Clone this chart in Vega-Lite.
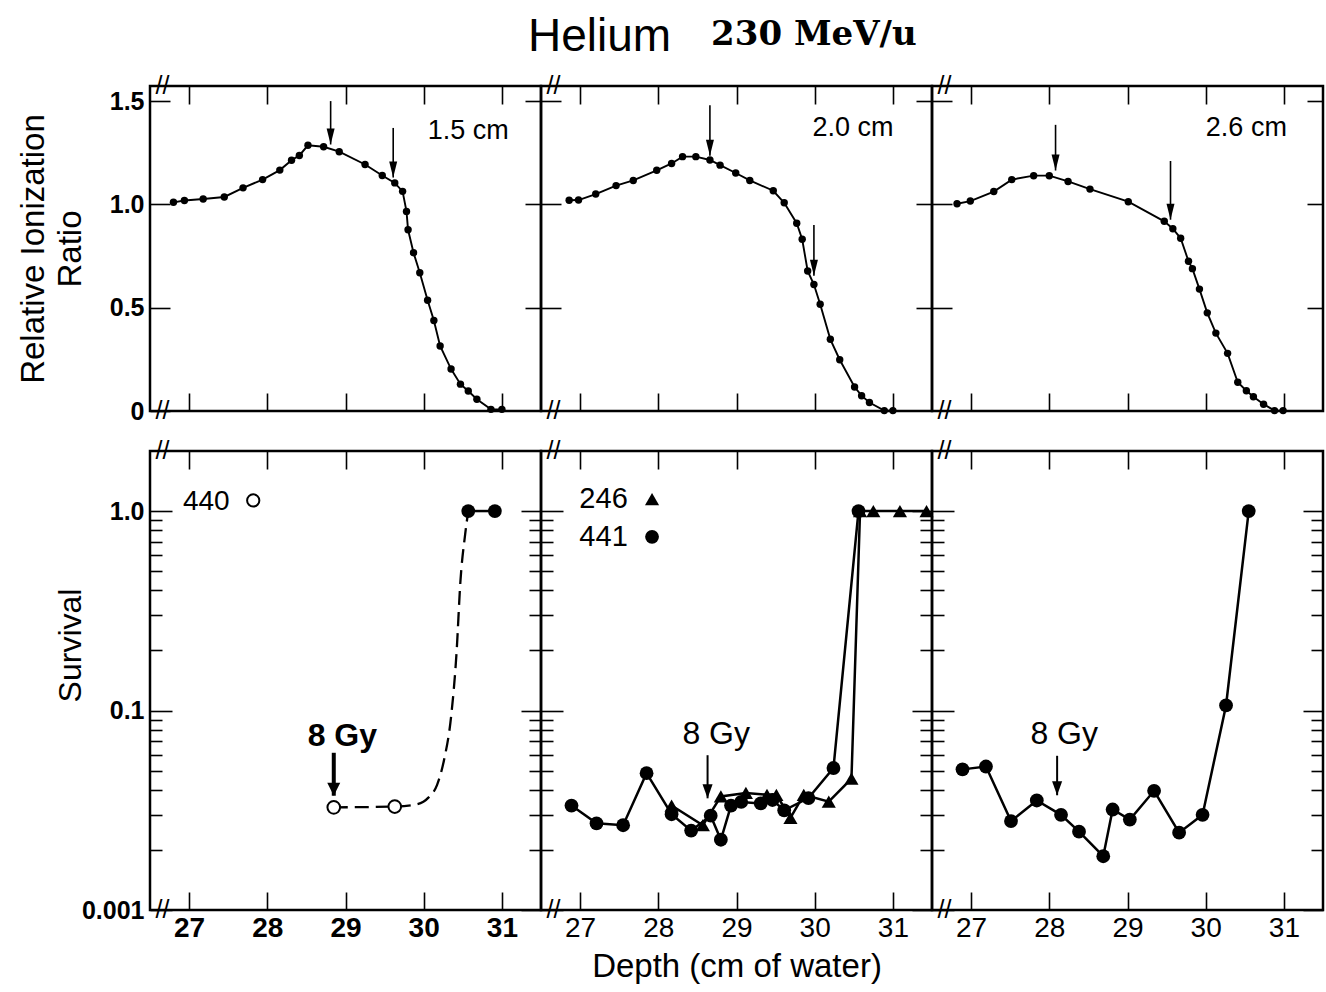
{
  "$schema": "https://vega.github.io/schema/vega-lite/v6.json",
  "background": "white",
  "padding": {"left": 15, "top": 13, "right": 0, "bottom": 0},
  "title": {"text": "Helium", "font": "Liberation Sans", "fontSize": 46, "fontWeight": "normal", "color": "black", "anchor": "start", "frame": "group", "dx": 378, "offset": -44},
  "config": {
    "view": {"stroke": "black", "strokeWidth": 2.5},
    "axis": {"domain": false, "grid": false, "ticks": true, "tickColor": "black", "tickWidth": 1.6, "labelColor": "black", "titleColor": "black", "labelFont": "Liberation Sans", "titleFont": "Liberation Sans", "labelFlush": false, "titleFontWeight": "normal"},
    "text": {"font": "Liberation Sans", "color": "black"}
  },
  "datasets": {
    "ion": [
      {"panel": "1.5", "depth": 26.80, "ratio": 1.010}, {"panel": "1.5", "depth": 26.94, "ratio": 1.019}, {"panel": "1.5", "depth": 27.18, "ratio": 1.026}, {"panel": "1.5", "depth": 27.45, "ratio": 1.036},
      {"panel": "1.5", "depth": 27.69, "ratio": 1.080}, {"panel": "1.5", "depth": 27.94, "ratio": 1.120}, {"panel": "1.5", "depth": 28.16, "ratio": 1.166}, {"panel": "1.5", "depth": 28.31, "ratio": 1.214},
      {"panel": "1.5", "depth": 28.41, "ratio": 1.237}, {"panel": "1.5", "depth": 28.52, "ratio": 1.286}, {"panel": "1.5", "depth": 28.72, "ratio": 1.279}, {"panel": "1.5", "depth": 28.92, "ratio": 1.255},
      {"panel": "1.5", "depth": 29.25, "ratio": 1.193}, {"panel": "1.5", "depth": 29.47, "ratio": 1.140}, {"panel": "1.5", "depth": 29.63, "ratio": 1.104}, {"panel": "1.5", "depth": 29.73, "ratio": 1.063},
      {"panel": "1.5", "depth": 29.78, "ratio": 0.966}, {"panel": "1.5", "depth": 29.80, "ratio": 0.877}, {"panel": "1.5", "depth": 29.87, "ratio": 0.766}, {"panel": "1.5", "depth": 29.95, "ratio": 0.669},
      {"panel": "1.5", "depth": 30.05, "ratio": 0.536}, {"panel": "1.5", "depth": 30.13, "ratio": 0.438}, {"panel": "1.5", "depth": 30.21, "ratio": 0.315}, {"panel": "1.5", "depth": 30.35, "ratio": 0.203},
      {"panel": "1.5", "depth": 30.47, "ratio": 0.130}, {"panel": "1.5", "depth": 30.57, "ratio": 0.097}, {"panel": "1.5", "depth": 30.68, "ratio": 0.057}, {"panel": "1.5", "depth": 30.86, "ratio": 0.008},
      {"panel": "1.5", "depth": 31.00, "ratio": 0.008},
      {"panel": "2.0", "depth": 26.86, "ratio": 1.020}, {"panel": "2.0", "depth": 26.98, "ratio": 1.021}, {"panel": "2.0", "depth": 27.20, "ratio": 1.050}, {"panel": "2.0", "depth": 27.46, "ratio": 1.091},
      {"panel": "2.0", "depth": 27.68, "ratio": 1.116}, {"panel": "2.0", "depth": 27.98, "ratio": 1.165}, {"panel": "2.0", "depth": 28.17, "ratio": 1.198}, {"panel": "2.0", "depth": 28.31, "ratio": 1.231},
      {"panel": "2.0", "depth": 28.48, "ratio": 1.231}, {"panel": "2.0", "depth": 28.66, "ratio": 1.215}, {"panel": "2.0", "depth": 28.79, "ratio": 1.190}, {"panel": "2.0", "depth": 28.99, "ratio": 1.152},
      {"panel": "2.0", "depth": 29.17, "ratio": 1.116}, {"panel": "2.0", "depth": 29.47, "ratio": 1.066}, {"panel": "2.0", "depth": 29.61, "ratio": 1.008}, {"panel": "2.0", "depth": 29.77, "ratio": 0.909},
      {"panel": "2.0", "depth": 29.84, "ratio": 0.831}, {"panel": "2.0", "depth": 29.91, "ratio": 0.678}, {"panel": "2.0", "depth": 29.99, "ratio": 0.612}, {"panel": "2.0", "depth": 30.07, "ratio": 0.517},
      {"panel": "2.0", "depth": 30.20, "ratio": 0.347}, {"panel": "2.0", "depth": 30.32, "ratio": 0.248}, {"panel": "2.0", "depth": 30.51, "ratio": 0.116}, {"panel": "2.0", "depth": 30.60, "ratio": 0.074},
      {"panel": "2.0", "depth": 30.70, "ratio": 0.041}, {"panel": "2.0", "depth": 30.89, "ratio": 0.002}, {"panel": "2.0", "depth": 31.00, "ratio": 0.002},
      {"panel": "2.6", "depth": 26.82, "ratio": 1.003}, {"panel": "2.6", "depth": 26.99, "ratio": 1.016}, {"panel": "2.6", "depth": 27.29, "ratio": 1.062}, {"panel": "2.6", "depth": 27.52, "ratio": 1.120},
      {"panel": "2.6", "depth": 27.80, "ratio": 1.139}, {"panel": "2.6", "depth": 28.00, "ratio": 1.139}, {"panel": "2.6", "depth": 28.24, "ratio": 1.111}, {"panel": "2.6", "depth": 28.52, "ratio": 1.074},
      {"panel": "2.6", "depth": 29.01, "ratio": 1.013}, {"panel": "2.6", "depth": 29.47, "ratio": 0.918}, {"panel": "2.6", "depth": 29.58, "ratio": 0.882}, {"panel": "2.6", "depth": 29.68, "ratio": 0.836},
      {"panel": "2.6", "depth": 29.78, "ratio": 0.725}, {"panel": "2.6", "depth": 29.83, "ratio": 0.689}, {"panel": "2.6", "depth": 29.92, "ratio": 0.590}, {"panel": "2.6", "depth": 30.02, "ratio": 0.475},
      {"panel": "2.6", "depth": 30.13, "ratio": 0.377}, {"panel": "2.6", "depth": 30.28, "ratio": 0.279}, {"panel": "2.6", "depth": 30.41, "ratio": 0.139}, {"panel": "2.6", "depth": 30.52, "ratio": 0.098},
      {"panel": "2.6", "depth": 30.61, "ratio": 0.069}, {"panel": "2.6", "depth": 30.74, "ratio": 0.033}, {"panel": "2.6", "depth": 30.88, "ratio": 0.002}, {"panel": "2.6", "depth": 30.99, "ratio": 0.002}
    ],
    "ionArrows": [
      {"panel": "1.5", "depth": 28.81, "top": 1.50, "tip": 1.29}, {"panel": "1.5", "depth": 29.61, "top": 1.37, "tip": 1.13},
      {"panel": "2.0", "depth": 28.66, "top": 1.48, "tip": 1.235}, {"panel": "2.0", "depth": 29.99, "top": 0.90, "tip": 0.655},
      {"panel": "2.6", "depth": 28.08, "top": 1.385, "tip": 1.164}, {"panel": "2.6", "depth": 29.55, "top": 1.21, "tip": 0.926}
    ],
    "ionLabels": [
      {"panel": "1.5", "depth": 30.57, "ratio": 1.355, "text": "1.5 cm"},
      {"panel": "2.0", "depth": 30.49, "ratio": 1.372, "text": "2.0 cm"},
      {"panel": "2.6", "depth": 30.52, "ratio": 1.369, "text": "2.6 cm"}
    ],
    "header": [{"depth": 29.99, "ratio": 1.771, "text": "230 MeV/u"}],
    "breaksTop": [{"depth": 26.66, "ratio": 0, "text": "//"}, {"depth": 26.66, "ratio": 1.573, "text": "//"}],
    "breaksBottom": [{"depth": 26.66, "survival": 0.01, "text": "//"}, {"depth": 26.66, "survival": 2, "text": "//"}],
    "curveA": [
      {"seg": "dashed", "depth": 28.85, "survival": 0.0327}, {"seg": "dashed", "depth": 29.63, "survival": 0.0330}, {"seg": "dashed", "depth": 29.89, "survival": 0.0337},
      {"seg": "dashed", "depth": 30.06, "survival": 0.0366}, {"seg": "dashed", "depth": 30.17, "survival": 0.0423}, {"seg": "dashed", "depth": 30.26, "survival": 0.0565},
      {"seg": "dashed", "depth": 30.35, "survival": 0.0929}, {"seg": "dashed", "depth": 30.42, "survival": 0.195}, {"seg": "dashed", "depth": 30.47, "survival": 0.447},
      {"seg": "dashed", "depth": 30.53, "survival": 0.764}, {"seg": "dashed", "depth": 30.57, "survival": 1.0},
      {"seg": "solid", "depth": 30.57, "survival": 1.0}, {"seg": "solid", "depth": 30.91, "survival": 1.0}
    ],
    "surv": [
      {"panel": "A", "series": "440", "marker": "open", "depth": 28.85, "survival": 0.0327},
      {"panel": "A", "series": "440", "marker": "open", "depth": 29.63, "survival": 0.0330},
      {"panel": "A", "series": "440", "marker": "filled", "depth": 30.57, "survival": 1.0},
      {"panel": "A", "series": "440", "marker": "filled", "depth": 30.91, "survival": 1.0},
      {"panel": "B", "series": "441", "marker": "filled", "depth": 26.89, "survival": 0.0334},
      {"panel": "B", "series": "441", "marker": "filled", "depth": 27.21, "survival": 0.0272},
      {"panel": "B", "series": "441", "marker": "filled", "depth": 27.55, "survival": 0.0266},
      {"panel": "B", "series": "441", "marker": "filled", "depth": 27.85, "survival": 0.0485},
      {"panel": "B", "series": "441", "marker": "filled", "depth": 28.17, "survival": 0.0302},
      {"panel": "B", "series": "441", "marker": "filled", "depth": 28.42, "survival": 0.0250},
      {"panel": "B", "series": "441", "marker": "filled", "depth": 28.67, "survival": 0.0297},
      {"panel": "B", "series": "441", "marker": "filled", "depth": 28.80, "survival": 0.0225},
      {"panel": "B", "series": "441", "marker": "filled", "depth": 28.93, "survival": 0.0334},
      {"panel": "B", "series": "441", "marker": "filled", "depth": 29.06, "survival": 0.0348},
      {"panel": "B", "series": "441", "marker": "filled", "depth": 29.31, "survival": 0.0342},
      {"panel": "B", "series": "441", "marker": "filled", "depth": 29.46, "survival": 0.0356},
      {"panel": "B", "series": "441", "marker": "filled", "depth": 29.61, "survival": 0.0316},
      {"panel": "B", "series": "441", "marker": "filled", "depth": 29.92, "survival": 0.0364},
      {"panel": "B", "series": "441", "marker": "filled", "depth": 30.24, "survival": 0.0515},
      {"panel": "B", "series": "441", "marker": "filled", "depth": 30.56, "survival": 1.0},
      {"panel": "B", "series": "246", "marker": "triangle", "depth": 28.17, "survival": 0.0334},
      {"panel": "B", "series": "246", "marker": "triangle", "depth": 28.57, "survival": 0.0266},
      {"panel": "B", "series": "246", "marker": "triangle", "depth": 28.80, "survival": 0.0371},
      {"panel": "B", "series": "246", "marker": "triangle", "depth": 29.12, "survival": 0.0386},
      {"panel": "B", "series": "246", "marker": "triangle", "depth": 29.39, "survival": 0.0378},
      {"panel": "B", "series": "246", "marker": "triangle", "depth": 29.51, "survival": 0.0378},
      {"panel": "B", "series": "246", "marker": "triangle", "depth": 29.69, "survival": 0.0290},
      {"panel": "B", "series": "246", "marker": "triangle", "depth": 29.86, "survival": 0.0378},
      {"panel": "B", "series": "246", "marker": "triangle", "depth": 30.18, "survival": 0.0349},
      {"panel": "B", "series": "246", "marker": "triangle", "depth": 30.47, "survival": 0.0455},
      {"panel": "B", "series": "246", "marker": "triangle", "depth": 30.58, "survival": 1.0},
      {"panel": "B", "series": "246", "marker": "triangle", "depth": 30.75, "survival": 1.0},
      {"panel": "B", "series": "246", "marker": "triangle", "depth": 31.09, "survival": 1.0},
      {"panel": "B", "series": "246", "marker": "triangle", "depth": 31.43, "survival": 1.0},
      {"panel": "C", "series": "441", "marker": "filled", "depth": 26.89, "survival": 0.0507},
      {"panel": "C", "series": "441", "marker": "filled", "depth": 27.19, "survival": 0.0524},
      {"panel": "C", "series": "441", "marker": "filled", "depth": 27.51, "survival": 0.0279},
      {"panel": "C", "series": "441", "marker": "filled", "depth": 27.84, "survival": 0.0354},
      {"panel": "C", "series": "441", "marker": "filled", "depth": 28.15, "survival": 0.0300},
      {"panel": "C", "series": "441", "marker": "filled", "depth": 28.38, "survival": 0.0247},
      {"panel": "C", "series": "441", "marker": "filled", "depth": 28.69, "survival": 0.0186},
      {"panel": "C", "series": "441", "marker": "filled", "depth": 28.81, "survival": 0.0319},
      {"panel": "C", "series": "441", "marker": "filled", "depth": 29.03, "survival": 0.0284},
      {"panel": "C", "series": "441", "marker": "filled", "depth": 29.34, "survival": 0.0396},
      {"panel": "C", "series": "441", "marker": "filled", "depth": 29.66, "survival": 0.0244},
      {"panel": "C", "series": "441", "marker": "filled", "depth": 29.96, "survival": 0.0300},
      {"panel": "C", "series": "441", "marker": "filled", "depth": 30.26, "survival": 0.106},
      {"panel": "C", "series": "441", "marker": "filled", "depth": 30.55, "survival": 1.0}
    ],
    "survArrows": [
      {"panel": "A", "depth": 28.85, "top": 0.0614, "tip": 0.0374},
      {"panel": "B", "depth": 28.63, "top": 0.0597, "tip": 0.0363},
      {"panel": "C", "depth": 28.10, "top": 0.0593, "tip": 0.0376}
    ],
    "survText": [
      {"panel": "A", "kind": "dose", "depth": 28.96, "survival": 0.0748, "text": "8 Gy"},
      {"panel": "A", "kind": "legend", "depth": 27.22, "survival": 1.11, "text": "440"},
      {"panel": "B", "kind": "dose", "depth": 28.74, "survival": 0.076, "text": "8 Gy"},
      {"panel": "B", "kind": "legend", "depth": 27.30, "survival": 1.146, "text": "246"},
      {"panel": "B", "kind": "legend", "depth": 27.30, "survival": 0.743, "text": "441"},
      {"panel": "C", "kind": "dose", "depth": 28.19, "survival": 0.076, "text": "8 Gy"}
    ],
    "legendSymbols": [
      {"panel": "A", "marker": "open", "depth": 27.82, "survival": 1.13},
      {"panel": "B", "marker": "triangle", "depth": 27.92, "survival": 1.146},
      {"panel": "B", "marker": "filled", "depth": 27.92, "survival": 0.743}
    ]
  },
  "spacing": 11,
  "vconcat": [
    {
      "spacing": 0,
      "bounds": "flush",
      "hconcat": [
        {
          "width": 391, "height": 325,
          "layer": [
            {"data": {"name": "ion"}, "transform": [{"filter": "datum.panel == '1.5'"}],
             "mark": {"type": "line", "color": "black", "strokeWidth": 1.9},
             "encoding": {
               "x": {"field": "depth", "type": "quantitative", "scale": {"domain": [26.5, 31.5], "nice": false, "zero": false}, "axis": {"orient": "bottom", "values": [27, 28, 29, 30, 31], "labels": false, "tickSize": -18, "title": null}},
               "y": {"field": "ratio", "type": "quantitative", "scale": {"domain": [0, 1.573], "nice": false, "zero": false}, "axis": {"orient": "left", "values": [0, 0.5, 1, 1.5], "tickSize": -20, "labelPadding": 26, "labelExpr": "datum.value == 0 ? '0' : format(datum.value, '.1f')", "labelFontSize": 25, "labelFontWeight": "bold", "title": ["Relative Ionization", "Ratio"], "titleFontSize": 33, "titleLineHeight": 37, "titlePadding": 22}}
             }},
            {"data": {"name": "ion"}, "transform": [{"filter": "datum.panel == '1.5'"}],
             "mark": {"type": "point", "shape": "circle", "filled": true, "color": "black", "opacity": 1, "size": 55},
             "encoding": {
               "x": {"field": "depth", "type": "quantitative", "axis": {"orient": "top", "values": [27, 28, 29, 30, 31], "labels": false, "tickSize": -18, "title": null}},
               "y": {"field": "ratio", "type": "quantitative", "axis": {"orient": "right", "values": [0.5, 1, 1.5], "labels": false, "tickSize": -16, "title": null}}
             }},
            {"data": {"name": "ionArrows"}, "transform": [{"filter": "datum.panel == '1.5'"}],
             "mark": {"type": "rule", "color": "black", "strokeWidth": 1.6},
             "encoding": {"x": {"field": "depth", "type": "quantitative", "axis": null}, "y": {"field": "top", "type": "quantitative", "axis": null}, "y2": {"field": "tip"}}},
            {"data": {"name": "ionArrows"}, "transform": [{"filter": "datum.panel == '1.5'"}],
             "mark": {"type": "point", "shape": "M-0.25,-1L0.25,-1L0,0Z", "filled": true, "color": "black", "opacity": 1, "size": 1024},
             "encoding": {"x": {"field": "depth", "type": "quantitative", "axis": null}, "y": {"field": "tip", "type": "quantitative", "axis": null}}},
            {"data": {"name": "ionLabels"}, "transform": [{"filter": "datum.panel == '1.5'"}],
             "mark": {"type": "text", "fontSize": 27, "align": "center", "baseline": "middle"},
             "encoding": {"x": {"field": "depth", "type": "quantitative", "axis": null}, "y": {"field": "ratio", "type": "quantitative", "axis": null}, "text": {"field": "text"}}},
            {"data": {"name": "breaksTop"},
             "mark": {"type": "text", "fontSize": 25, "align": "center", "baseline": "middle"},
             "encoding": {"x": {"field": "depth", "type": "quantitative", "axis": null}, "y": {"field": "ratio", "type": "quantitative", "axis": null}, "text": {"field": "text"}}}
          ]
        },
        {
          "width": 391, "height": 325,
          "layer": [
            {"data": {"name": "ion"}, "transform": [{"filter": "datum.panel == '2.0'"}],
             "mark": {"type": "line", "color": "black", "strokeWidth": 1.9},
             "encoding": {
               "x": {"field": "depth", "type": "quantitative", "scale": {"domain": [26.5, 31.5], "nice": false, "zero": false}, "axis": {"orient": "bottom", "values": [27, 28, 29, 30, 31], "labels": false, "tickSize": -18, "title": null}},
               "y": {"field": "ratio", "type": "quantitative", "scale": {"domain": [0, 1.573], "nice": false, "zero": false}, "axis": {"orient": "left", "values": [0.5, 1, 1.5], "tickSize": -20, "labels": false, "title": null}}
             }},
            {"data": {"name": "ion"}, "transform": [{"filter": "datum.panel == '2.0'"}],
             "mark": {"type": "point", "shape": "circle", "filled": true, "color": "black", "opacity": 1, "size": 55},
             "encoding": {
               "x": {"field": "depth", "type": "quantitative", "axis": {"orient": "top", "values": [27, 28, 29, 30, 31], "labels": false, "tickSize": -18, "title": null}},
               "y": {"field": "ratio", "type": "quantitative", "axis": {"orient": "right", "values": [0.5, 1, 1.5], "labels": false, "tickSize": -16, "title": null}}
             }},
            {"data": {"name": "ionArrows"}, "transform": [{"filter": "datum.panel == '2.0'"}],
             "mark": {"type": "rule", "color": "black", "strokeWidth": 1.6},
             "encoding": {"x": {"field": "depth", "type": "quantitative", "axis": null}, "y": {"field": "top", "type": "quantitative", "axis": null}, "y2": {"field": "tip"}}},
            {"data": {"name": "ionArrows"}, "transform": [{"filter": "datum.panel == '2.0'"}],
             "mark": {"type": "point", "shape": "M-0.25,-1L0.25,-1L0,0Z", "filled": true, "color": "black", "opacity": 1, "size": 1024},
             "encoding": {"x": {"field": "depth", "type": "quantitative", "axis": null}, "y": {"field": "tip", "type": "quantitative", "axis": null}}},
            {"data": {"name": "ionLabels"}, "transform": [{"filter": "datum.panel == '2.0'"}],
             "mark": {"type": "text", "fontSize": 27, "align": "center", "baseline": "middle"},
             "encoding": {"x": {"field": "depth", "type": "quantitative", "axis": null}, "y": {"field": "ratio", "type": "quantitative", "axis": null}, "text": {"field": "text"}}},
            {"data": {"name": "header"},
             "mark": {"type": "text", "font": "DejaVu Serif", "fontWeight": "bold", "fontSize": 34, "align": "center", "baseline": "alphabetic"},
             "encoding": {"x": {"field": "depth", "type": "quantitative", "axis": null}, "y": {"field": "ratio", "type": "quantitative", "axis": null}, "text": {"field": "text"}}},
            {"data": {"name": "breaksTop"},
             "mark": {"type": "text", "fontSize": 25, "align": "center", "baseline": "middle"},
             "encoding": {"x": {"field": "depth", "type": "quantitative", "axis": null}, "y": {"field": "ratio", "type": "quantitative", "axis": null}, "text": {"field": "text"}}}
          ]
        },
        {
          "width": 391, "height": 325,
          "layer": [
            {"data": {"name": "ion"}, "transform": [{"filter": "datum.panel == '2.6'"}],
             "mark": {"type": "line", "color": "black", "strokeWidth": 1.9},
             "encoding": {
               "x": {"field": "depth", "type": "quantitative", "scale": {"domain": [26.5, 31.5], "nice": false, "zero": false}, "axis": {"orient": "bottom", "values": [27, 28, 29, 30, 31], "labels": false, "tickSize": -18, "title": null}},
               "y": {"field": "ratio", "type": "quantitative", "scale": {"domain": [0, 1.573], "nice": false, "zero": false}, "axis": {"orient": "left", "values": [0.5, 1, 1.5], "tickSize": -20, "labels": false, "title": null}}
             }},
            {"data": {"name": "ion"}, "transform": [{"filter": "datum.panel == '2.6'"}],
             "mark": {"type": "point", "shape": "circle", "filled": true, "color": "black", "opacity": 1, "size": 55},
             "encoding": {
               "x": {"field": "depth", "type": "quantitative", "axis": {"orient": "top", "values": [27, 28, 29, 30, 31], "labels": false, "tickSize": -18, "title": null}},
               "y": {"field": "ratio", "type": "quantitative", "axis": {"orient": "right", "values": [0.5, 1, 1.5], "labels": false, "tickSize": -16, "title": null}}
             }},
            {"data": {"name": "ionArrows"}, "transform": [{"filter": "datum.panel == '2.6'"}],
             "mark": {"type": "rule", "color": "black", "strokeWidth": 1.6},
             "encoding": {"x": {"field": "depth", "type": "quantitative", "axis": null}, "y": {"field": "top", "type": "quantitative", "axis": null}, "y2": {"field": "tip"}}},
            {"data": {"name": "ionArrows"}, "transform": [{"filter": "datum.panel == '2.6'"}],
             "mark": {"type": "point", "shape": "M-0.25,-1L0.25,-1L0,0Z", "filled": true, "color": "black", "opacity": 1, "size": 1024},
             "encoding": {"x": {"field": "depth", "type": "quantitative", "axis": null}, "y": {"field": "tip", "type": "quantitative", "axis": null}}},
            {"data": {"name": "ionLabels"}, "transform": [{"filter": "datum.panel == '2.6'"}],
             "mark": {"type": "text", "fontSize": 27, "align": "center", "baseline": "middle"},
             "encoding": {"x": {"field": "depth", "type": "quantitative", "axis": null}, "y": {"field": "ratio", "type": "quantitative", "axis": null}, "text": {"field": "text"}}},
            {"data": {"name": "breaksTop"},
             "mark": {"type": "text", "fontSize": 25, "align": "center", "baseline": "middle"},
             "encoding": {"x": {"field": "depth", "type": "quantitative", "axis": null}, "y": {"field": "ratio", "type": "quantitative", "axis": null}, "text": {"field": "text"}}}
          ]
        }
      ]
    },
    {
      "spacing": 0,
      "bounds": "flush",
      "hconcat": [
        {
          "width": 391, "height": 459,
          "layer": [
            {"data": {"name": "curveA"}, "transform": [{"filter": "datum.seg == 'dashed'"}],
             "mark": {"type": "line", "color": "black", "strokeWidth": 2.3, "strokeDash": [14, 7], "interpolate": "monotone"},
             "encoding": {
               "x": {"field": "depth", "type": "quantitative", "scale": {"domain": [26.5, 31.5], "nice": false, "zero": false}, "axis": {"orient": "bottom", "values": [27, 28, 29, 30, 31], "tickSize": -18, "labelPadding": 22, "labelFontSize": 28, "labelFontWeight": "bold", "title": null}},
               "y": {"field": "survival", "type": "quantitative", "scale": {"type": "log", "domain": [0.01, 2], "nice": false}, "axis": {"orient": "left", "values": [0.01, 0.02, 0.03, 0.04, 0.05, 0.06, 0.07, 0.08, 0.09, 0.1, 0.2, 0.3, 0.4, 0.5, 0.6, 0.7, 0.8, 0.9, 1], "tickSize": {"condition": {"test": "datum.value == 1 || datum.value == 0.1 || datum.value == 0.01", "value": -22}, "value": -12}, "labelPadding": 28, "labelExpr": "datum.value == 1 ? '1.0' : datum.value == 0.1 ? '0.1' : datum.value == 0.01 ? '0.001' : ''", "labelFontSize": 25, "labelFontWeight": "bold", "labelOverlap": false, "title": "Survival", "titleFontSize": 32, "titlePadding": -6, "titleY": 194}}
             }},
            {"data": {"name": "curveA"}, "transform": [{"filter": "datum.seg == 'solid'"}],
             "mark": {"type": "line", "color": "black", "strokeWidth": 2.5},
             "encoding": {
               "x": {"field": "depth", "type": "quantitative", "axis": {"orient": "top", "values": [27, 28, 29, 30, 31], "labels": false, "tickSize": -18, "title": null}},
               "y": {"field": "survival", "type": "quantitative", "axis": {"orient": "right", "values": [0.01, 0.02, 0.03, 0.04, 0.05, 0.06, 0.07, 0.08, 0.09, 0.1, 0.2, 0.3, 0.4, 0.5, 0.6, 0.7, 0.8, 0.9, 1], "tickSize": {"condition": {"test": "datum.value == 1 || datum.value == 0.1 || datum.value == 0.01", "value": -20}, "value": -12}, "labels": false, "title": null}}
             }},
            {"data": {"name": "surv"}, "transform": [{"filter": "datum.panel == 'A' && datum.marker == 'open'"}],
             "mark": {"type": "point", "shape": "circle", "filled": true, "fill": "white", "stroke": "black", "strokeWidth": 2, "opacity": 1, "size": 160},
             "encoding": {"x": {"field": "depth", "type": "quantitative", "axis": null}, "y": {"field": "survival", "type": "quantitative", "axis": null}}},
            {"data": {"name": "surv"}, "transform": [{"filter": "datum.panel == 'A' && datum.marker == 'filled'"}],
             "mark": {"type": "point", "shape": "circle", "filled": true, "color": "black", "opacity": 1, "size": 190},
             "encoding": {"x": {"field": "depth", "type": "quantitative", "axis": null}, "y": {"field": "survival", "type": "quantitative", "axis": null}}},
            {"data": {"name": "survArrows"}, "transform": [{"filter": "datum.panel == 'A'"}],
             "mark": {"type": "rule", "color": "black", "strokeWidth": 4},
             "encoding": {"x": {"field": "depth", "type": "quantitative", "axis": null}, "y": {"field": "top", "type": "quantitative", "axis": null}, "y2": {"field": "tip"}}},
            {"data": {"name": "survArrows"}, "transform": [{"filter": "datum.panel == 'A'"}],
             "mark": {"type": "point", "shape": "M-0.5,-1L0.5,-1L0,0Z", "filled": true, "color": "black", "opacity": 1, "size": 676},
             "encoding": {"x": {"field": "depth", "type": "quantitative", "axis": null}, "y": {"field": "tip", "type": "quantitative", "axis": null}}},
            {"data": {"name": "survText"}, "transform": [{"filter": "datum.panel == 'A' && datum.kind == 'dose'"}],
             "mark": {"type": "text", "fontSize": 32, "fontWeight": "bold", "align": "center", "baseline": "middle"},
             "encoding": {"x": {"field": "depth", "type": "quantitative", "axis": null}, "y": {"field": "survival", "type": "quantitative", "axis": null}, "text": {"field": "text"}}},
            {"data": {"name": "survText"}, "transform": [{"filter": "datum.panel == 'A' && datum.kind == 'legend'"}],
             "mark": {"type": "text", "fontSize": 28, "align": "center", "baseline": "middle"},
             "encoding": {"x": {"field": "depth", "type": "quantitative", "axis": null}, "y": {"field": "survival", "type": "quantitative", "axis": null}, "text": {"field": "text"}}},
            {"data": {"name": "legendSymbols"}, "transform": [{"filter": "datum.panel == 'A'"}],
             "mark": {"type": "point", "shape": "circle", "filled": true, "fill": "white", "stroke": "black", "strokeWidth": 2, "opacity": 1, "size": 150},
             "encoding": {"x": {"field": "depth", "type": "quantitative", "axis": null}, "y": {"field": "survival", "type": "quantitative", "axis": null}}},
            {"data": {"name": "breaksBottom"},
             "mark": {"type": "text", "fontSize": 25, "align": "center", "baseline": "middle"},
             "encoding": {"x": {"field": "depth", "type": "quantitative", "axis": null}, "y": {"field": "survival", "type": "quantitative", "axis": null}, "text": {"field": "text"}}}
          ]
        },
        {
          "width": 391, "height": 459,
          "layer": [
            {"data": {"name": "surv"}, "transform": [{"filter": "datum.panel == 'B' && datum.series == '441'"}],
             "mark": {"type": "line", "color": "black", "strokeWidth": 2.5},
             "encoding": {
               "x": {"field": "depth", "type": "quantitative", "scale": {"domain": [26.5, 31.5], "nice": false, "zero": false}, "axis": {"orient": "bottom", "values": [27, 28, 29, 30, 31], "tickSize": -18, "labelPadding": 22, "labelFontSize": 28, "title": "Depth (cm of water)", "titleFontSize": 33, "titlePadding": 8}},
               "y": {"field": "survival", "type": "quantitative", "scale": {"type": "log", "domain": [0.01, 2], "nice": false}, "axis": {"orient": "left", "values": [0.01, 0.02, 0.03, 0.04, 0.05, 0.06, 0.07, 0.08, 0.09, 0.1, 0.2, 0.3, 0.4, 0.5, 0.6, 0.7, 0.8, 0.9, 1], "tickSize": {"condition": {"test": "datum.value == 1 || datum.value == 0.1 || datum.value == 0.01", "value": -22}, "value": -12}, "labels": false, "title": null}}
             }},
            {"data": {"name": "surv"}, "transform": [{"filter": "datum.panel == 'B' && datum.series == '246'"}],
             "mark": {"type": "line", "color": "black", "strokeWidth": 2.5},
             "encoding": {
               "x": {"field": "depth", "type": "quantitative", "axis": {"orient": "top", "values": [27, 28, 29, 30, 31], "labels": false, "tickSize": -18, "title": null}},
               "y": {"field": "survival", "type": "quantitative", "axis": {"orient": "right", "values": [0.01, 0.02, 0.03, 0.04, 0.05, 0.06, 0.07, 0.08, 0.09, 0.1, 0.2, 0.3, 0.4, 0.5, 0.6, 0.7, 0.8, 0.9, 1], "tickSize": {"condition": {"test": "datum.value == 1 || datum.value == 0.1 || datum.value == 0.01", "value": -20}, "value": -12}, "labels": false, "title": null}}
             }},
            {"data": {"name": "surv"}, "transform": [{"filter": "datum.panel == 'B' && datum.marker == 'triangle'"}],
             "mark": {"type": "point", "shape": "triangle-up", "filled": true, "color": "black", "opacity": 1, "size": 200},
             "encoding": {"x": {"field": "depth", "type": "quantitative", "axis": null}, "y": {"field": "survival", "type": "quantitative", "axis": null}}},
            {"data": {"name": "surv"}, "transform": [{"filter": "datum.panel == 'B' && datum.marker == 'filled'"}],
             "mark": {"type": "point", "shape": "circle", "filled": true, "color": "black", "opacity": 1, "size": 190},
             "encoding": {"x": {"field": "depth", "type": "quantitative", "axis": null}, "y": {"field": "survival", "type": "quantitative", "axis": null}}},
            {"data": {"name": "survArrows"}, "transform": [{"filter": "datum.panel == 'B'"}],
             "mark": {"type": "rule", "color": "black", "strokeWidth": 2},
             "encoding": {"x": {"field": "depth", "type": "quantitative", "axis": null}, "y": {"field": "top", "type": "quantitative", "axis": null}, "y2": {"field": "tip"}}},
            {"data": {"name": "survArrows"}, "transform": [{"filter": "datum.panel == 'B'"}],
             "mark": {"type": "point", "shape": "M-0.36,-1L0.36,-1L0,0Z", "filled": true, "color": "black", "opacity": 1, "size": 784},
             "encoding": {"x": {"field": "depth", "type": "quantitative", "axis": null}, "y": {"field": "tip", "type": "quantitative", "axis": null}}},
            {"data": {"name": "survText"}, "transform": [{"filter": "datum.panel == 'B' && datum.kind == 'dose'"}],
             "mark": {"type": "text", "fontSize": 32, "align": "center", "baseline": "middle"},
             "encoding": {"x": {"field": "depth", "type": "quantitative", "axis": null}, "y": {"field": "survival", "type": "quantitative", "axis": null}, "text": {"field": "text"}}},
            {"data": {"name": "survText"}, "transform": [{"filter": "datum.panel == 'B' && datum.kind == 'legend'"}],
             "mark": {"type": "text", "fontSize": 29, "align": "center", "baseline": "middle"},
             "encoding": {"x": {"field": "depth", "type": "quantitative", "axis": null}, "y": {"field": "survival", "type": "quantitative", "axis": null}, "text": {"field": "text"}}},
            {"data": {"name": "legendSymbols"}, "transform": [{"filter": "datum.panel == 'B' && datum.marker == 'triangle'"}],
             "mark": {"type": "point", "shape": "triangle-up", "filled": true, "color": "black", "opacity": 1, "size": 200},
             "encoding": {"x": {"field": "depth", "type": "quantitative", "axis": null}, "y": {"field": "survival", "type": "quantitative", "axis": null}}},
            {"data": {"name": "legendSymbols"}, "transform": [{"filter": "datum.panel == 'B' && datum.marker == 'filled'"}],
             "mark": {"type": "point", "shape": "circle", "filled": true, "color": "black", "opacity": 1, "size": 190},
             "encoding": {"x": {"field": "depth", "type": "quantitative", "axis": null}, "y": {"field": "survival", "type": "quantitative", "axis": null}}},
            {"data": {"name": "breaksBottom"},
             "mark": {"type": "text", "fontSize": 25, "align": "center", "baseline": "middle"},
             "encoding": {"x": {"field": "depth", "type": "quantitative", "axis": null}, "y": {"field": "survival", "type": "quantitative", "axis": null}, "text": {"field": "text"}}}
          ]
        },
        {
          "width": 391, "height": 459,
          "layer": [
            {"data": {"name": "surv"}, "transform": [{"filter": "datum.panel == 'C'"}],
             "mark": {"type": "line", "color": "black", "strokeWidth": 2.5},
             "encoding": {
               "x": {"field": "depth", "type": "quantitative", "scale": {"domain": [26.5, 31.5], "nice": false, "zero": false}, "axis": {"orient": "bottom", "values": [27, 28, 29, 30, 31], "tickSize": -18, "labelPadding": 22, "labelFontSize": 28, "title": null}},
               "y": {"field": "survival", "type": "quantitative", "scale": {"type": "log", "domain": [0.01, 2], "nice": false}, "axis": {"orient": "left", "values": [0.01, 0.02, 0.03, 0.04, 0.05, 0.06, 0.07, 0.08, 0.09, 0.1, 0.2, 0.3, 0.4, 0.5, 0.6, 0.7, 0.8, 0.9, 1], "tickSize": {"condition": {"test": "datum.value == 1 || datum.value == 0.1 || datum.value == 0.01", "value": -22}, "value": -12}, "labels": false, "title": null}}
             }},
            {"data": {"name": "surv"}, "transform": [{"filter": "datum.panel == 'C'"}],
             "mark": {"type": "point", "shape": "circle", "filled": true, "color": "black", "opacity": 1, "size": 190},
             "encoding": {
               "x": {"field": "depth", "type": "quantitative", "axis": {"orient": "top", "values": [27, 28, 29, 30, 31], "labels": false, "tickSize": -18, "title": null}},
               "y": {"field": "survival", "type": "quantitative", "axis": {"orient": "right", "values": [0.01, 0.02, 0.03, 0.04, 0.05, 0.06, 0.07, 0.08, 0.09, 0.1, 0.2, 0.3, 0.4, 0.5, 0.6, 0.7, 0.8, 0.9, 1], "tickSize": {"condition": {"test": "datum.value == 1 || datum.value == 0.1 || datum.value == 0.01", "value": -20}, "value": -12}, "labels": false, "title": null}}
             }},
            {"data": {"name": "survArrows"}, "transform": [{"filter": "datum.panel == 'C'"}],
             "mark": {"type": "rule", "color": "black", "strokeWidth": 2},
             "encoding": {"x": {"field": "depth", "type": "quantitative", "axis": null}, "y": {"field": "top", "type": "quantitative", "axis": null}, "y2": {"field": "tip"}}},
            {"data": {"name": "survArrows"}, "transform": [{"filter": "datum.panel == 'C'"}],
             "mark": {"type": "point", "shape": "M-0.36,-1L0.36,-1L0,0Z", "filled": true, "color": "black", "opacity": 1, "size": 784},
             "encoding": {"x": {"field": "depth", "type": "quantitative", "axis": null}, "y": {"field": "tip", "type": "quantitative", "axis": null}}},
            {"data": {"name": "survText"}, "transform": [{"filter": "datum.panel == 'C' && datum.kind == 'dose'"}],
             "mark": {"type": "text", "fontSize": 32, "align": "center", "baseline": "middle"},
             "encoding": {"x": {"field": "depth", "type": "quantitative", "axis": null}, "y": {"field": "survival", "type": "quantitative", "axis": null}, "text": {"field": "text"}}},
            {"data": {"name": "breaksBottom"},
             "mark": {"type": "text", "fontSize": 25, "align": "center", "baseline": "middle"},
             "encoding": {"x": {"field": "depth", "type": "quantitative", "axis": null}, "y": {"field": "survival", "type": "quantitative", "axis": null}, "text": {"field": "text"}}}
          ]
        }
      ]
    }
  ]
}
